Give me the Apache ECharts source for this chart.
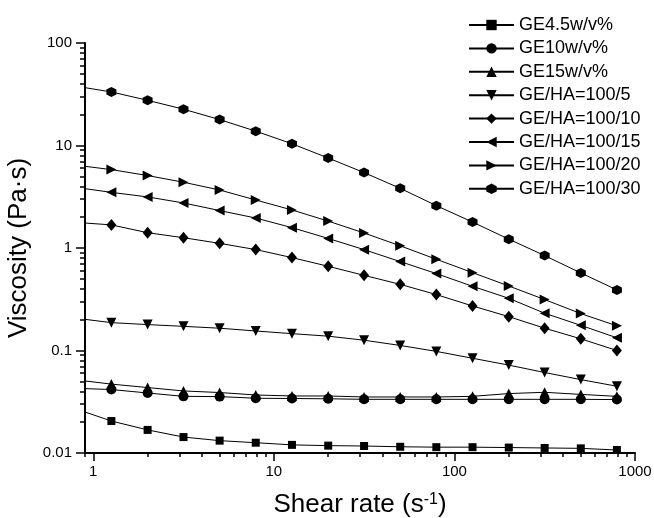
<!DOCTYPE html>
<html>
<head>
<meta charset="utf-8">
<title>Viscosity vs shear rate</title>
<script src="https://cdn.jsdelivr.net/npm/echarts@6/dist/echarts.min.js"></script>
<style>
    html, body { margin: 0; padding: 0; background: #fff; }
    #viscosityChart { width: 654px; height: 518px; }
</style>
</head>
<body>
<div id="viscosityChart"></div>
<script>
// shear rate (1/s); the first point sits left of the axis and is clipped
var shearRate = [0.794, 1.26, 2.0, 3.16, 5.01, 7.94, 12.6, 20.0, 31.6, 50.1, 79.4, 126, 200, 316, 501, 794];

var ge45 = [0.0271, 0.0205, 0.0168, 0.0143, 0.0132, 0.0126, 0.0120, 0.0118, 0.0117, 0.0115, 0.0114, 0.0114, 0.0113, 0.0112, 0.0111, 0.0107];
var ge10 = [0.0428, 0.0416, 0.0385, 0.0357, 0.0355, 0.0342, 0.0340, 0.0338, 0.0334, 0.0334, 0.0334, 0.0334, 0.0334, 0.0334, 0.0334, 0.0332];
var ge15 = [0.0518, 0.0470, 0.0435, 0.0403, 0.0389, 0.0368, 0.0360, 0.0360, 0.0352, 0.0352, 0.0352, 0.0357, 0.0380, 0.0391, 0.0373, 0.0357];
var geha5 = [0.207, 0.187, 0.179, 0.172, 0.165, 0.155, 0.146, 0.138, 0.126, 0.112, 0.098, 0.084, 0.072, 0.061, 0.052, 0.0448];
var geha10 = [1.78, 1.68, 1.41, 1.26, 1.11, 0.965, 0.806, 0.663, 0.541, 0.442, 0.351, 0.272, 0.214, 0.165, 0.130, 0.100];
var geha15 = [3.91, 3.49, 3.15, 2.75, 2.32, 1.96, 1.58, 1.24, 0.964, 0.737, 0.563, 0.423, 0.323, 0.231, 0.176, 0.133];
var geha20 = [6.44, 5.82, 5.09, 4.38, 3.68, 2.94, 2.35, 1.83, 1.40, 1.05, 0.776, 0.575, 0.426, 0.314, 0.229, 0.174];
var geha30 = [38.0, 33.3, 27.6, 22.6, 17.9, 13.8, 10.4, 7.55, 5.44, 3.82, 2.59, 1.79, 1.22, 0.843, 0.571, 0.390];

var seriesNames = ['GE4.5w/v%', 'GE10w/v%', 'GE15w/v%', 'GE/HA=100/5', 'GE/HA=100/10', 'GE/HA=100/15', 'GE/HA=100/20', 'GE/HA=100/30'];
var seriesValues = [ge45, ge10, ge15, geha5, geha10, geha15, geha20, geha30];

// log minor ticks sit at 2..9 times each decade
var minorMultipliers = [2, 3, 4, 5, 6, 7, 8, 9];

var xMin = 0.9, xMax = 1000;
var yMin = 0.01, yMax = 100;

var hexagon = 'path://M0,-10L8.66,-5L8.66,5L0,10L-8.66,5L-8.66,-5Z';
var symbols = ['rect', 'circle', 'triangle', 'triangle', 'diamond', 'triangle', 'triangle', hexagon];
var rotates = [0, 0, 0, 180, 0, 90, -90, 0];
var sizes = [8, 10, 10, 10, [10, 12], 10, 10, 10];

var fontName = 'Liberation Sans, Arial, sans-serif';

function pairUp(values) {
    var out = [];
    for (var i = 0; i < shearRate.length; i++) {
        out.push([shearRate[i], values[i]]);
    }
    return out;
}

function logLabel(v) {
    return parseFloat(v.toPrecision(6)).toString();
}

var series = [];
for (var s = 0; s < seriesNames.length; s++) {
    series.push({
        name: seriesNames[s],
        type: 'line',
        xAxisIndex: 0,
        yAxisIndex: 0,
        symbol: symbols[s],
        symbolSize: sizes[s],
        symbolRotate: rotates[s],
        showAllSymbol: true,
        clip: true,
        animation: false,
        lineStyle: { color: '#000', width: 1 },
        itemStyle: { color: '#000', borderWidth: 0 },
        data: pairUp(seriesValues[s])
    });
}

var xAxes = [{
    type: 'log',
    logBase: 10,
    position: 'bottom',
    min: xMin,
    max: xMax,
    name: 'Shear rate (s{sup|-1})',
    nameLocation: 'middle',
    nameGap: 39,
    nameTextStyle: {
        fontFamily: fontName,
        fontSize: 26,
        color: '#000',
        rich: {
            sup: { fontFamily: fontName, fontSize: 16, color: '#000', verticalAlign: 'top' }
        }
    },
    axisLine: { lineStyle: { color: '#000', width: 2 } },
    axisTick: { show: true, length: 8, lineStyle: { color: '#000', width: 1.5 } },
    axisLabel: {
        margin: 11,
        showMinLabel: false,
        fontFamily: fontName,
        fontSize: 15,
        color: '#000',
        formatter: logLabel
    },
    splitLine: { show: false }
}];

var yAxes = [{
    type: 'log',
    logBase: 10,
    position: 'left',
    min: yMin,
    max: yMax,
    name: 'Viscosity (Pa·s)',
    nameLocation: 'middle',
    nameGap: 44,
    nameTextStyle: {
        fontFamily: fontName,
        fontSize: 26,
        color: '#000'
    },
    axisLine: { lineStyle: { color: '#000', width: 2 } },
    axisTick: { show: true, length: 9, lineStyle: { color: '#000', width: 1.5 } },
    axisLabel: {
        margin: 13,
        fontFamily: fontName,
        fontSize: 15,
        color: '#000',
        formatter: logLabel
    },
    splitLine: { show: false }
}];

// helper axes: a log axis shifted by 1/k puts its decade ticks on k*10^n of the main axis
for (var m = 0; m < minorMultipliers.length; m++) {
    var k = minorMultipliers[m];
    xAxes.push({
        type: 'log',
        position: 'bottom',
        min: xMin / k,
        max: xMax / k,
        axisLine: { show: false },
        axisLabel: { show: false },
        axisTick: { show: true, length: 4, lineStyle: { color: '#000', width: 1.5 } },
        splitLine: { show: false }
    });
    yAxes.push({
        type: 'log',
        position: 'left',
        min: yMin / k,
        max: yMax / k,
        axisLine: { show: false },
        axisLabel: { show: false },
        axisTick: { show: true, length: 5, lineStyle: { color: '#000', width: 1.5 } },
        splitLine: { show: false }
    });
}

var viscosityChart = echarts.init(document.getElementById('viscosityChart'));
var viscosityOption = {
    backgroundColor: '#fff',
    textStyle: { fontFamily: fontName, color: '#000' },
    legend: {
        orient: 'vertical',
        left: 468,
        top: 16,
        padding: 0,
        itemWidth: 45,
        itemHeight: 13,
        itemGap: 5.4,
        selectedMode: false,
        data: seriesNames,
        textStyle: {
            fontFamily: fontName,
            fontSize: 18,
            color: '#000'
        }
    },
    grid: {
        left: 85,
        right: 19,
        top: 43,
        bottom: 65,
        outerBoundsMode: 'none'
    },
    xAxis: xAxes,
    yAxis: yAxes,
    series: series
};
viscosityChart.setOption(viscosityOption);
</script>
</body>
</html>
